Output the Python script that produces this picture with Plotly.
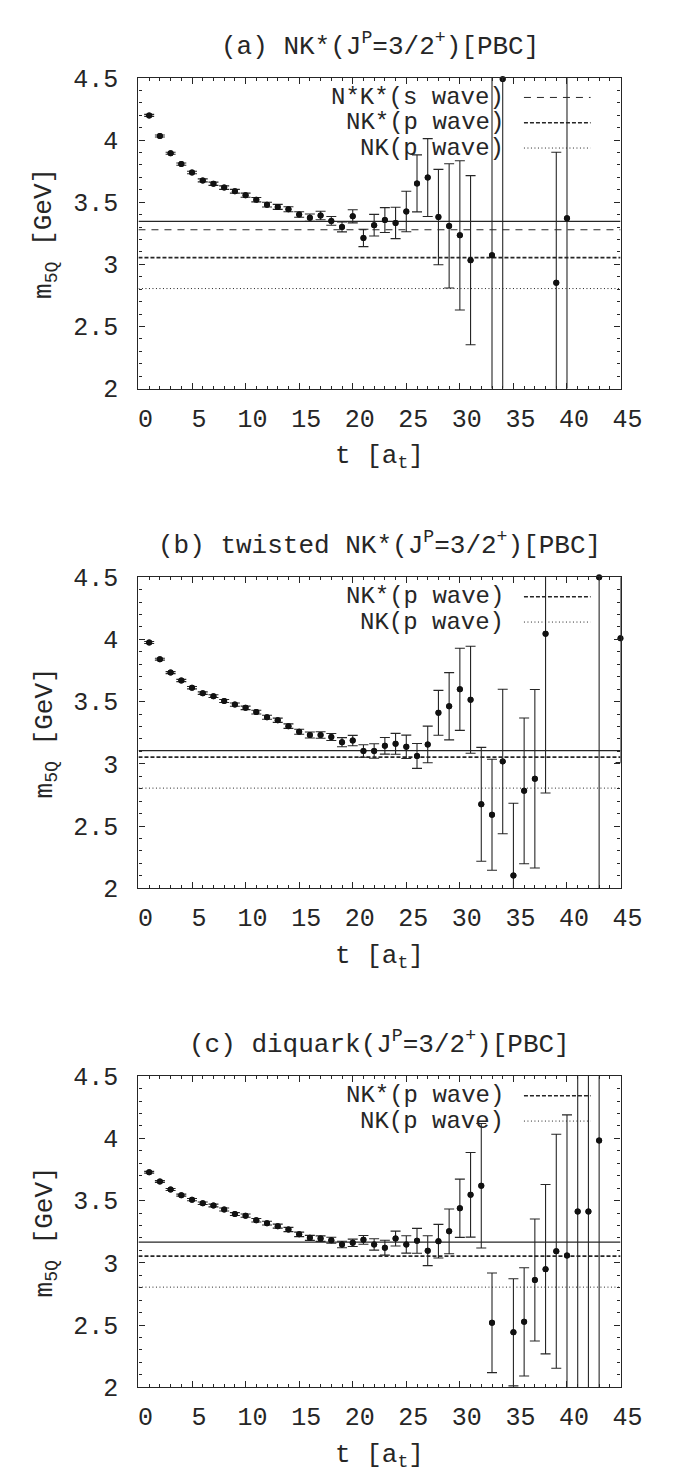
import plotly.graph_objects as go

W, H = 679, 1478
FONT = "Liberation Mono"
FS = 26
FS_TICK = 25
FS_KEY = 24

# ---------------- data ----------------
t_a = list(range(1, 32)) + [33, 34, 39, 40]
m_a = [4.198, 4.032, 3.893, 3.806, 3.738, 3.675, 3.648, 3.617, 3.588, 3.556,
       3.520, 3.480, 3.462, 3.443, 3.401, 3.375, 3.393, 3.349, 3.301, 3.386,
       3.212, 3.315, 3.356, 3.333, 3.425, 3.651, 3.698, 3.380, 3.309, 3.233,
       3.033, 3.073, 4.490, 2.852, 3.370]
e_a = [0.008, 0.008, 0.008, 0.009, 0.010, 0.012, 0.013, 0.014, 0.015, 0.017,
       0.018, 0.019, 0.020, 0.020, 0.022, 0.030, 0.034, 0.035, 0.040, 0.053,
       0.070, 0.087, 0.100, 0.126, 0.163, 0.229, 0.313, 0.384, 0.500, 0.600,
       0.680, 1.600, 2.600, 1.050, 1.500]

t_b = list(range(1, 39)) + [43, 45]
m_b = [3.975, 3.841, 3.733, 3.670, 3.612, 3.568, 3.544, 3.505, 3.476, 3.450,
       3.416, 3.374, 3.350, 3.303, 3.258, 3.232, 3.232, 3.216, 3.174, 3.187,
       3.103, 3.103, 3.145, 3.161, 3.137, 3.064, 3.156, 3.410, 3.463, 3.599,
       3.515, 2.675, 2.591, 3.019, 2.103, 2.783, 2.880, 4.046, 4.500, 4.010]
e_b = [0.008, 0.008, 0.008, 0.009, 0.010, 0.010, 0.011, 0.012, 0.013, 0.014,
       0.015, 0.016, 0.017, 0.018, 0.020, 0.024, 0.026, 0.028, 0.037, 0.042,
       0.050, 0.058, 0.067, 0.084, 0.094, 0.100, 0.147, 0.180, 0.270, 0.330,
       0.430, 0.457, 0.446, 0.580, 0.580, 0.585, 0.717, 1.280, 2.600, 1.000]

t_c = list(range(1, 34)) + list(range(35, 44))
m_c = [3.728, 3.654, 3.589, 3.544, 3.508, 3.479, 3.461, 3.429, 3.392, 3.379,
       3.342, 3.319, 3.295, 3.268, 3.229, 3.201, 3.195, 3.182, 3.148, 3.161,
       3.185, 3.148, 3.122, 3.195, 3.148, 3.177, 3.098, 3.174, 3.253, 3.439,
       3.547, 3.620, 2.518, 2.442, 2.526, 2.862, 2.949, 3.093, 3.059, 3.413,
       3.413, 3.983]
e_c = [0.007, 0.007, 0.008, 0.008, 0.009, 0.010, 0.011, 0.012, 0.012, 0.013,
       0.014, 0.015, 0.016, 0.017, 0.018, 0.020, 0.022, 0.024, 0.026, 0.030,
       0.035, 0.046, 0.060, 0.060, 0.070, 0.100, 0.120, 0.135, 0.180, 0.234,
       0.340, 0.500, 0.400, 0.430, 0.435, 0.490, 0.680, 0.940, 1.130, 1.500,
       1.500, 2.100]

fit_a, fit_b, fit_c = 3.346, 3.106, 3.166
thr_NsKs_s = 3.278
thr_NKs_p = 3.054
thr_NK_p = 2.805

titles = ["(a) NK*(J<sup>P</sup>=3/2<sup>+</sup>)[PBC]",
          "(b) twisted NK*(J<sup>P</sup>=3/2<sup>+</sup>)[PBC]",
          "(c) diquark(J<sup>P</sup>=3/2<sup>+</sup>)[PBC]"]
legend_a = ["N*K*(s wave)", "NK*(p wave)", "NK(p wave)"]
legend_bc = ["NK*(p wave)", "NK(p wave)"]
x_title = "t [a<sub>t</sub>]"
y_title = "m<sub>5Q</sub> [GeV]"

# ---------------- layout geometry (pixels) ----------------
X0, X1 = 134, 633
panels_px = [(59, 376), (568.3, 885.7), (1077.3, 1394.7)]

def px(x):
    return x / W

def py(y):
    return 1 - y / H

fig = go.Figure()

INK = "#262626"
dash_s = "7px,6px"
dash_p = "4px,2px"
dot_p = "1px,2.5px"

datasets = [
    (t_a, m_a, e_a, fit_a, [(thr_NsKs_s, dash_s, 1.0), (thr_NKs_p, dash_p, 1.6), (thr_NK_p, dot_p, 1.0)]),
    (t_b, m_b, e_b, fit_b, [(thr_NKs_p, dash_p, 1.6), (thr_NK_p, dot_p, 1.0)]),
    (t_c, m_c, e_c, fit_c, [(thr_NKs_p, dash_p, 1.6), (thr_NK_p, dot_p, 1.0)]),
]

annotations = []
shapes = []

for i, (tt, mm, ee, fit, thrs) in enumerate(datasets):
    sfx = "" if i == 0 else str(i + 1)
    xa, ya = "x" + sfx, "y" + sfx
    for val, dash, wdt in thrs:
        fig.add_trace(go.Scatter(x=[0, 45], y=[val, val], mode="lines",
                                 line=dict(color=INK, width=wdt, dash=dash),
                                 xaxis=xa, yaxis=ya, showlegend=False, hoverinfo="skip"))
    fig.add_trace(go.Scatter(x=[0, 45], y=[fit, fit], mode="lines",
                             line=dict(color=INK, width=1.3),
                             xaxis=xa, yaxis=ya, showlegend=False, hoverinfo="skip"))
    fig.add_trace(go.Scatter(x=tt, y=mm, mode="markers",
                             marker=dict(color="#111111", size=6),
                             error_y=dict(type="data", array=ee, visible=True,
                                          color=INK, thickness=1.1, width=5),
                             xaxis=xa, yaxis=ya, showlegend=False, cliponaxis=True))
    fig.add_trace(go.Scatter(x=tt, y=mm, mode="markers",
                             marker=dict(color="#111111", size=6),
                             xaxis=xa, yaxis=ya, showlegend=False, cliponaxis=False))

    top, bot = panels_px[i]
    dom_y = [py(bot), py(top)]
    axcommon = dict(showline=True, linecolor=INK, linewidth=1.2, mirror="allticks",
                    showgrid=False, zeroline=False, ticks="inside", ticklen=6, tickwidth=1,
                    tickcolor=INK,
                    tickfont=dict(family=FONT, size=FS_TICK, color=INK))
    fig.layout["xaxis" + sfx] = dict(
        domain=[px(X0), px(X1)], anchor=ya, range=[0, 45], tickmode="linear",
        tick0=0, dtick=5,
        minor=dict(dtick=1, ticklen=3, ticks="inside", tickcolor=INK),
        ticklabelshift=7, ticklabelstandoff=7, **axcommon)
    fig.layout["yaxis" + sfx] = dict(
        domain=dom_y, anchor=xa, range=[2, 4.5], tickmode="linear", tick0=2, dtick=0.5,
        minor=dict(dtick=0.1, ticklen=3, ticks="inside", tickcolor=INK),
        ticklabelstandoff=14, **axcommon)

    annotations.append(dict(text=titles[i], x=px((X0 + X1) / 2), y=py(top - 34),
                            xref="paper", yref="paper", showarrow=False,
                            xanchor="center", yanchor="middle",
                            font=dict(family=FONT, size=FS, color=INK)))
    annotations.append(dict(text=x_title, x=px((X0 + X1) / 2), y=py(bot + 70),
                            xref="paper", yref="paper", showarrow=False,
                            xanchor="center", yanchor="middle",
                            font=dict(family=FONT, size=FS, color=INK)))
    annotations.append(dict(text=y_title, x=px(38), y=py((top + bot) / 2),
                            xref="paper", yref="paper", showarrow=False, textangle=-90,
                            xanchor="center", yanchor="middle",
                            font=dict(family=FONT, size=FS, color=INK)))
    labels = legend_a if i == 0 else legend_bc
    for k, lab in enumerate(labels):
        yrow = top + 20 + 25.8 * k
        annotations.append(dict(text=lab, x=px(514), y=py(yrow), xref="paper", yref="paper",
                                showarrow=False, xanchor="right", yanchor="middle",
                                font=dict(family=FONT, size=FS_KEY, color=INK)))
        _, dash, wdt = thrs[k]
        shapes.append(dict(type="line", xref="paper", yref="paper",
                           x0=px(533), x1=px(602), y0=py(yrow), y1=py(yrow),
                           line=dict(color=INK, width=wdt, dash=dash)))

fig.update_layout(width=W, height=H, margin=dict(l=0, r=0, t=0, b=0),
                  paper_bgcolor="white", plot_bgcolor="white",
                  annotations=annotations, shapes=shapes, showlegend=False)

fig.write_html("out.html")
